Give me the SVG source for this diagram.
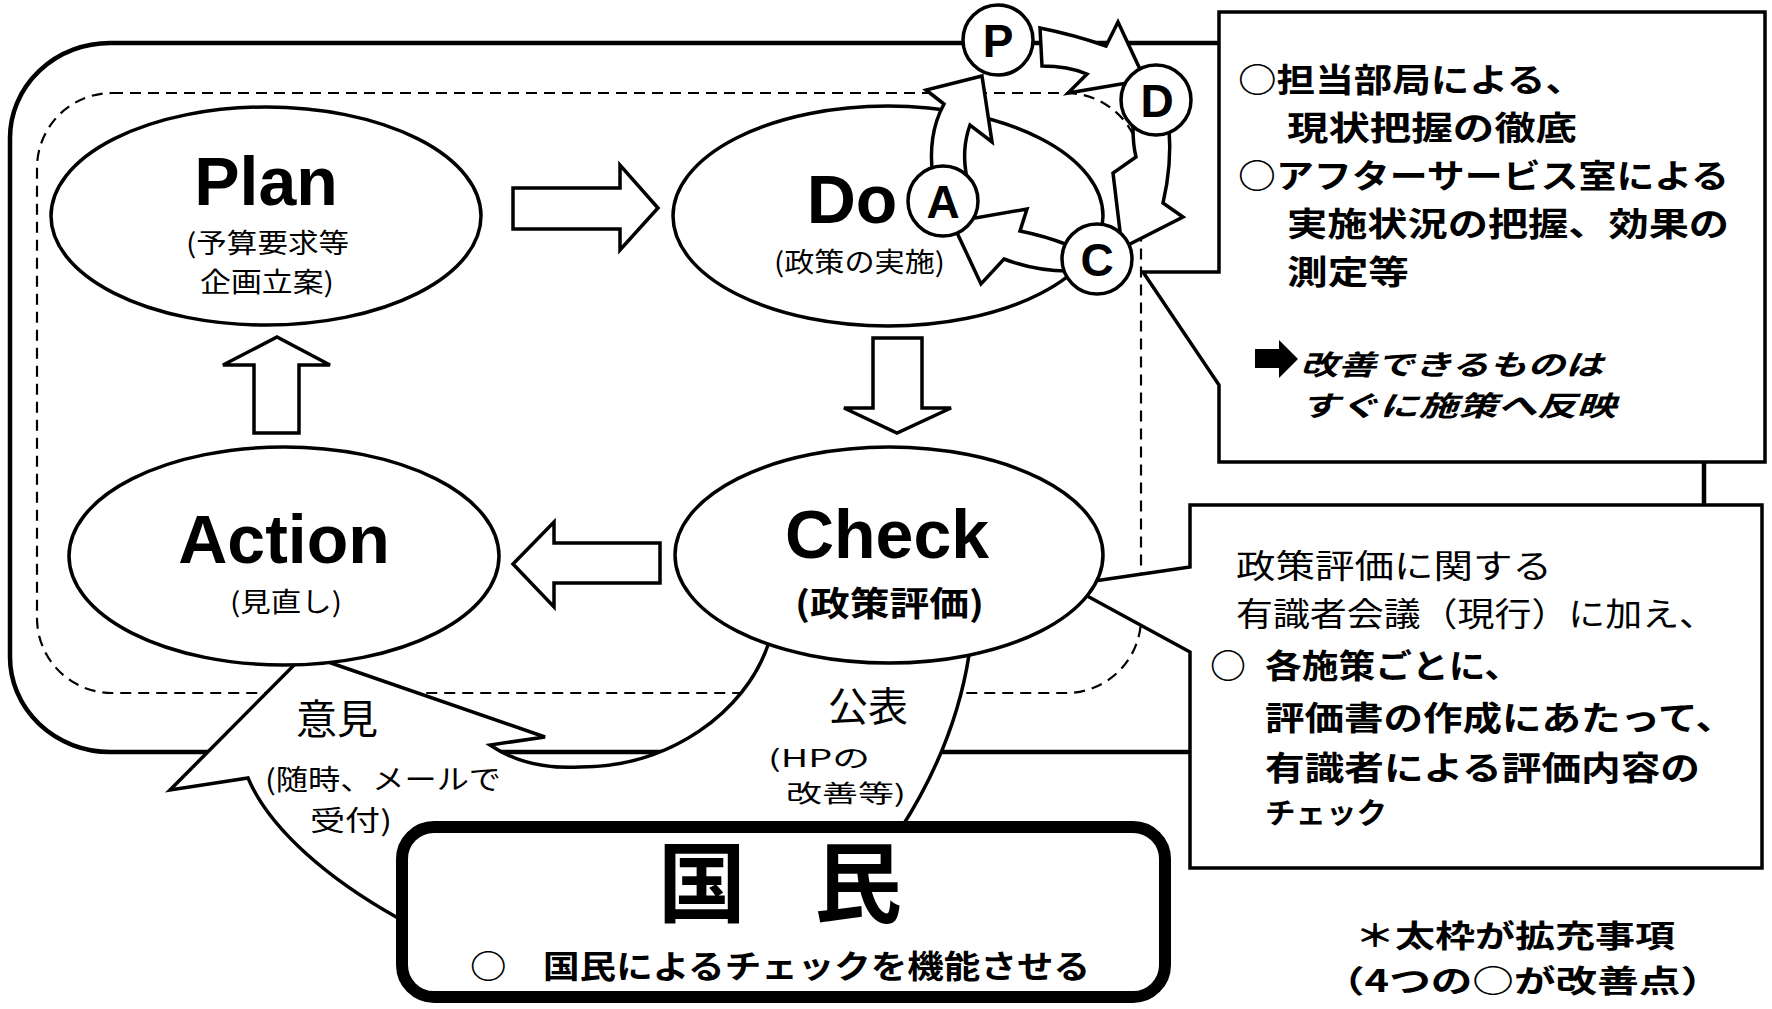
<svg xmlns="http://www.w3.org/2000/svg" width="1772" height="1009" viewBox="0 0 1772 1009">
<defs>
<style>
.ln{fill:none;stroke:#000;stroke-width:4.5}
.dash{fill:none;stroke:#000;stroke-width:2.2;stroke-dasharray:11 7}
.sh{fill:#fff;stroke:#000;stroke-width:3.5;stroke-linejoin:miter}
.lat{font-family:"Liberation Sans",Arial,sans-serif;font-weight:bold;fill:#000}
.jp{font-family:"Noto Sans CJK JP","Noto Sans",sans-serif;fill:#000}
.b{font-weight:bold}
.it{font-style:italic}
.mid{text-anchor:middle}
</style>
</defs>
<rect x="0" y="0" width="1772" height="1009" fill="#fff"/>

<g id="frames">
<rect class="ln" x="10" y="43" width="1694" height="709" rx="100" ry="95"/>
<rect class="dash" x="37" y="93" width="1104" height="600" rx="75"/>
</g>

<g id="box-top">
<path class="sh" d="M1219,12 H1765 V462 H1219 V385 L1143,272 H1219 Z"/>
<text class="jp b" x="1238" y="92" font-size="33" textLength="346" lengthAdjust="spacingAndGlyphs">○担当部局による、</text>
<text class="jp b" x="1287" y="140" font-size="33" textLength="290" lengthAdjust="spacingAndGlyphs">現状把握の徹底</text>
<text class="jp b" x="1238" y="188" font-size="33" textLength="491" lengthAdjust="spacingAndGlyphs">○アフターサービス室による</text>
<text class="jp b" x="1287" y="236" font-size="33" textLength="442" lengthAdjust="spacingAndGlyphs">実施状況の把握、効果の</text>
<text class="jp b" x="1287" y="284" font-size="33" textLength="122" lengthAdjust="spacingAndGlyphs">測定等</text>
<polygon points="1255,349 1279,349 1279,340 1298,359 1279,378 1279,368 1255,368" fill="#000"/>
<text class="jp b it" x="1300" y="375" font-size="28" textLength="303" lengthAdjust="spacingAndGlyphs">改善できるものは</text>
<text class="jp b it" x="1300" y="416" font-size="28" textLength="316" lengthAdjust="spacingAndGlyphs">すぐに施策へ反映</text>
</g>

<g id="box-bottom">
<path class="sh" d="M1190,505 H1762 V868 H1190 V652 L1067,585 L1190,567 Z"/>
<text class="jp" x="1236" y="578" font-size="33" textLength="316" lengthAdjust="spacingAndGlyphs">政策評価に関する</text>
<text class="jp" x="1236" y="626" font-size="33" textLength="480" lengthAdjust="spacingAndGlyphs">有識者会議（現行）に加え、</text>
<text class="jp b" x="1210" y="678" font-size="33" textLength="36" lengthAdjust="spacingAndGlyphs">○</text>
<text class="jp b" x="1265" y="678" font-size="33" textLength="256" lengthAdjust="spacingAndGlyphs">各施策ごとに、</text>
<text class="jp b" x="1265" y="730" font-size="33" textLength="470" lengthAdjust="spacingAndGlyphs">評価書の作成にあたって、</text>
<text class="jp b" x="1265" y="780" font-size="33" textLength="435" lengthAdjust="spacingAndGlyphs">有識者による評価内容の</text>
<text class="jp b" x="1265" y="824" font-size="29" textLength="122" lengthAdjust="spacingAndGlyphs">チェック</text>
</g>

<g id="plan">
<ellipse class="sh" cx="266" cy="216" rx="215" ry="109"/>
<text class="lat mid" x="266" y="205" font-size="68">Plan</text>
<text class="jp" x="186" y="253" font-size="27" textLength="163" lengthAdjust="spacingAndGlyphs">(予算要求等</text>
<text class="jp" x="200" y="292" font-size="27" textLength="134" lengthAdjust="spacingAndGlyphs">企画立案)</text>
</g>

<g id="do">
<ellipse class="sh" cx="888" cy="216" rx="215" ry="110"/>
<text class="lat mid" x="852" y="223" font-size="68">Do</text>
<text class="jp" x="774" y="272" font-size="27" textLength="171" lengthAdjust="spacingAndGlyphs">(政策の実施)</text>
</g>

<g id="connectors">
<path class="sh" d="M513,188 H620 V165 L658,208 L620,250 V229 H513 Z"/>
<path class="sh" d="M873,338 H922 V408 H951 L897,433 L844,408 H873 Z"/>
<path class="sh" d="M660,543 H554 V522 L513,564 L554,607 V583 H660 Z"/>
<path class="sh" d="M254,433 V365 H223 L277,337 L330,365 H299 V433 Z"/>
<path class="sh" d="M933,178 Q927,135 944,104 L926,90 L982,76 L992,142 L970,125 Q961,150 967,178 Z"/>
<path class="sh" d="M1040,28 Q1075,35 1106,46 L1118,22 L1145,80 L1068,93 L1087,74 Q1068,66 1042,66 Z"/>
<path class="sh" d="M1133,128 Q1133,145 1136,157 L1113,173 L1122,248 L1183,217 L1163,203 Q1172,165 1169,128 Z"/>
<path class="sh" d="M1068,245 Q1045,236 1020,231 L1027,209 L952,222 L981,284 L1004,259 Q1035,271 1068,271 Z"/>
<path class="sh" d="M305,654 L545,737 L490,745 C515,762 545,769 580,767 C670,767 745,712 768,645 L780,600 L975,600 L969,655 C962,700 945,760 900,830 C860,920 700,960 560,960 C480,958 430,945 398,918 C330,880 270,830 248,778 L170,790 Z"/>
<text class="jp mid" x="337" y="734" font-size="41">意見</text>
<text class="jp" x="265" y="790" font-size="28" textLength="236" lengthAdjust="spacingAndGlyphs">(随時、メールで</text>
<text class="jp" x="310" y="831" font-size="28" textLength="82" lengthAdjust="spacingAndGlyphs">受付)</text>
<text class="jp mid" x="868" y="721" font-size="40">公表</text>
<text class="jp" x="768" y="767" font-size="24" textLength="102" lengthAdjust="spacingAndGlyphs">(HPの</text>
<text class="jp" x="786" y="802" font-size="24" textLength="120" lengthAdjust="spacingAndGlyphs">改善等)</text>
</g>

<g id="action">
<ellipse class="sh" cx="284" cy="556" rx="215" ry="109"/>
<text class="lat mid" x="284" y="563" font-size="68">Action</text>
<text class="jp" x="230" y="612" font-size="27" textLength="112" lengthAdjust="spacingAndGlyphs">(見直し)</text>
</g>

<g id="check">
<ellipse class="sh" cx="889" cy="555" rx="214" ry="108"/>
<text class="lat mid" x="887" y="558" font-size="68">Check</text>
<text class="jp b" x="795" y="616" font-size="34" textLength="189" lengthAdjust="spacingAndGlyphs">(政策評価)</text>
</g>

<g id="kokumin">
<rect x="402" y="827" width="763" height="170" rx="32" fill="#fff" stroke="#000" stroke-width="12"/>
<text class="jp b mid" x="702" y="915" font-size="88">国</text>
<text class="jp b mid" x="858" y="915" font-size="88">民</text>
<text class="jp b" x="470" y="978" font-size="32" textLength="620" lengthAdjust="spacingAndGlyphs">○　国民によるチェックを機能させる</text>
</g>

<g id="pdca-p">
<circle class="sh" cx="998" cy="40" r="35"/>
<text class="lat mid" x="998" y="57" font-size="46">P</text>
</g>
<g id="pdca-d">
<circle class="sh" cx="1156" cy="100" r="35"/>
<text class="lat mid" x="1157" y="117" font-size="46">D</text>
</g>
<g id="pdca-c">
<circle class="sh" cx="1097" cy="259" r="35"/>
<text class="lat mid" x="1097" y="276" font-size="46">C</text>
</g>
<g id="pdca-a">
<circle class="sh" cx="943" cy="201" r="35"/>
<text class="lat mid" x="943" y="218" font-size="46">A</text>
</g>

<g id="note">
<text class="jp b" x="1355" y="947" font-size="31" textLength="320" lengthAdjust="spacingAndGlyphs">＊太枠が拡充事項</text>
<text class="jp b" x="1323" y="992" font-size="31" textLength="399" lengthAdjust="spacingAndGlyphs">（4つの○が改善点）</text>
</g>
</svg>
